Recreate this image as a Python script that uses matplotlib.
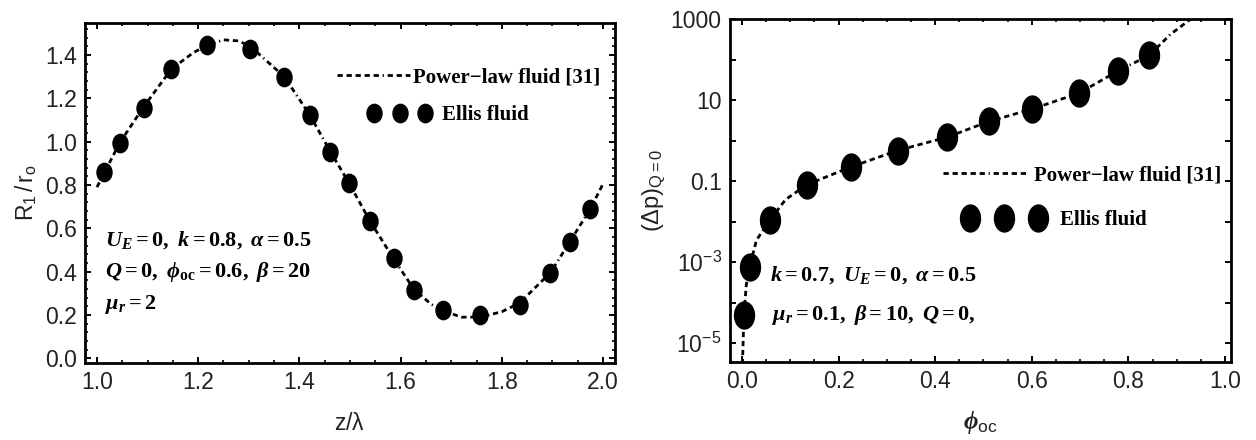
import numpy as np
import matplotlib
matplotlib.use("Agg")
import matplotlib.pyplot as plt
from matplotlib.path import Path
from matplotlib.transforms import Affine2D
from matplotlib.lines import Line2D
from matplotlib.ticker import MultipleLocator, LogLocator, FuncFormatter, NullLocator

# ---------------- data ----------------
# left panel: R1/r0 vs z/lambda
z_powerlaw = [1.000, 1.013, 1.045, 1.092, 1.147, 1.190, 1.217, 1.250, 1.280, 1.303,
              1.370, 1.420, 1.461, 1.499, 1.539, 1.586, 1.626, 1.660, 1.684, 1.720,
              1.757, 1.800, 1.835, 1.896, 1.935, 1.975, 2.000]
R_powerlaw = [0.790, 0.850, 0.995, 1.160, 1.335, 1.410, 1.445, 1.470, 1.465, 1.440,
              1.300, 1.125, 0.955, 0.805, 0.635, 0.460, 0.320, 0.250, 0.220, 0.190,
              0.190, 0.215, 0.255, 0.395, 0.540, 0.690, 0.805]
z_ellis = [1.013, 1.045, 1.092, 1.147, 1.217, 1.303, 1.370, 1.420, 1.461, 1.499,
           1.539, 1.586, 1.626, 1.684, 1.757, 1.835, 1.896, 1.935, 1.975]
R_ellis = [0.861, 0.995, 1.157, 1.334, 1.446, 1.427, 1.297, 1.123, 0.951, 0.808,
           0.635, 0.462, 0.315, 0.223, 0.200, 0.246, 0.395, 0.538, 0.688]

# right panel: (Delta p)_{Q=0} vs phi_oc
phi_powerlaw = [0.001, 0.004, 0.009, 0.016, 0.030, 0.058, 0.090, 0.134, 0.225, 0.322,
                0.424, 0.511, 0.601, 0.698, 0.779, 0.843, 0.887, 0.928, 0.945]
dp_powerlaw = [3.0e-6, 5.0e-5, 2.8e-4, 7.8e-4, 3.5e-3, 1.1e-2, 3.5e-2, 8.2e-2, 0.224, 0.575,
               1.22, 3.0, 6.1, 15.1, 53.7, 129.0, 427.0, 1000.0, 1500.0]
phi_ellis = [0.004, 0.016, 0.058, 0.134, 0.225, 0.322, 0.424, 0.511, 0.601, 0.698,
             0.779, 0.843]
dp_ellis = [5.0e-5, 7.8e-4, 1.1e-2, 8.2e-2, 0.224, 0.575, 1.22, 3.0, 6.1, 15.1,
            53.7, 129.0]

left_xticks = [1.0, 1.2, 1.4, 1.6, 1.8, 2.0]
left_yticks = [0.0, 0.2, 0.4, 0.6, 0.8, 1.0, 1.2, 1.4]
right_xticks = [0.0, 0.2, 0.4, 0.6, 0.8, 1.0]

legend_labels = ["Power\u2212law fluid [31]", "Ellis fluid"]

# ---------------- style ----------------
plt.rcParams['mathtext.fontset'] = 'custom'
plt.rcParams['mathtext.rm'] = 'Liberation Serif:bold'
plt.rcParams['mathtext.it'] = 'Liberation Serif:bold:italic'
plt.rcParams['mathtext.bf'] = 'Liberation Serif:bold'
plt.rcParams['mathtext.sf'] = 'Liberation Sans'
plt.rcParams['font.family'] = ['Liberation Sans', 'DejaVu Sans']
plt.rcParams['lines.scale_dashes'] = False

TICKCOL = '#222222'
DASH = (0, (3.8, 2.7, 3.8, 2.7, 3.8, 2.7, 3.8, 2.7, 3.8, 2.7, 0.9, 2.7))


def ellipse_marker(ratio):
    return Path.unit_circle().transformed(Affine2D().scale(1.0, ratio))


fig = plt.figure(figsize=(12.56, 4.40), dpi=100)
W, H = 1256.0, 440.0


def px_axes(l, t, r, b):
    return fig.add_axes([l / W, 1 - b / H, (r - l) / W, (b - t) / H])


def style_axes(ax):
    for s in ax.spines.values():
        s.set_linewidth(2.0)
        s.set_color('black')
    ax.tick_params(which='both', direction='in', top=True, right=True,
                   colors='black', labelcolor=TICKCOL, labelsize=16.5)
    ax.tick_params(which='major', length=4.5, width=1.4, pad=6)
    ax.tick_params(which='minor', length=2.3, width=1.2)


# ---------------- left panel ----------------
axL = px_axes(85, 23, 615, 363)
style_axes(axL)
mkL = ellipse_marker(1.22)
axL.plot(z_powerlaw, R_powerlaw, color='black', lw=2.0, linestyle=DASH,
         dash_capstyle='butt', zorder=2)
axL.plot(z_ellis, R_ellis, linestyle='none', marker=mkL, markersize=13.2,
         color='black', zorder=3)
axL.set_xlim(0.9763, 2.0237)
axL.set_ylim(-0.0217, 1.5477)
axL.set_xticks(left_xticks)
axL.set_yticks(left_yticks)
axL.set_xticklabels([f"{v:.1f}" for v in left_xticks])
axL.set_yticklabels([f"{v:.1f}" for v in left_yticks])
axL.xaxis.set_minor_locator(MultipleLocator(0.05))
axL.yaxis.set_minor_locator(MultipleLocator(0.04))
axL.set_xlabel(r"$\mathsf{z/\lambda}$", fontsize=16.5, color=TICKCOL, labelpad=13)
axL.set_ylabel(r"$\mathsf{R_1\,/\,r_o}$", fontsize=16.5, color=TICKCOL, labelpad=4)

txtkw = dict(transform=axL.transAxes, ha='left', va='center', fontsize=16)
axL.text(0.038, 0.362, r"$U_E = 0,\ k = 0.8,\ \alpha = 0.5$", **txtkw)
axL.text(0.038, 0.268, r"$Q = 0,\ \phi_{\rm oc} = 0.6,\ \beta = 20$", **txtkw)
axL.text(0.038, 0.171, r"$\mu_r = 2$", **txtkw)

FS_LEG = 15
legfont = dict(family='Liberation Serif', weight='bold', size=FS_LEG)
hL1 = Line2D([], [], color='black', lw=2.0, linestyle=DASH, dash_capstyle='butt')
hL2 = Line2D([], [], color='black', linestyle='none', marker=mkL, markersize=13.2)
lg1 = axL.legend([hL1], [legend_labels[0]], loc='center left',
                 bbox_to_anchor=(0.4755, 0.841), frameon=False, prop=legfont,
                 handlelength=3.5, handletextpad=0.14, borderpad=0, borderaxespad=0)
axL.add_artist(lg1)
axL.legend([hL2], [legend_labels[1]], loc='center left', numpoints=3,
           bbox_to_anchor=(0.5335, 0.729), frameon=False, prop=legfont,
           handlelength=3.05, handletextpad=0.52, borderpad=0, borderaxespad=0)

# ---------------- right panel ----------------
axR = px_axes(730, 19, 1231, 362)
style_axes(axR)
mkR = ellipse_marker(1.35)
axR.plot(phi_powerlaw, dp_powerlaw, color='black', lw=2.0, linestyle=DASH,
         dash_capstyle='butt', zorder=2)
axR.plot(phi_ellis, dp_ellis, linestyle='none', marker=mkR, markersize=19.4,
         color='black', zorder=3)
axR.set_yscale('log')
axR.set_xlim(-0.0248, 1.0124)
axR.set_ylim(10 ** -5.468, 10 ** 3.01)
axR.set_xticks(right_xticks)
axR.set_xticklabels([f"{v:.1f}" for v in right_xticks])
axR.xaxis.set_minor_locator(MultipleLocator(0.05))
axR.yaxis.set_major_locator(LogLocator(base=10, subs=(1.0,), numticks=20))
axR.yaxis.set_minor_locator(NullLocator())


def logfmt(v, pos):
    e = int(round(np.log10(v)))
    if e % 2 == 0:
        return ""
    if e == 3:
        return "1000"
    if e == 1:
        return "10"
    if e == -1:
        return "0.1"
    return r"$\mathsf{10^{%d}}$" % e


axR.yaxis.set_major_formatter(FuncFormatter(logfmt))
axR.set_xlabel(r"$\phi_{\mathsf{oc}}$", fontsize=18, color=TICKCOL, labelpad=11)
axR.set_ylabel(r"$\mathsf{(\Delta p)_{Q=0}}$", fontsize=17, color=TICKCOL, labelpad=2)

txtkwR = dict(transform=axR.transAxes, ha='left', va='center', fontsize=16)
axR.text(0.080, 0.254, r"$k = \mathit{0.7},\ U_E = \mathit{0},\ \alpha = \mathit{0.5}$", **txtkwR)
axR.text(0.084, 0.137, r"$\mu_r = \mathit{0.1},\ \beta = 10,\ Q = \mathit{0},$", **txtkwR)

hR2 = Line2D([], [], color='black', linestyle='none', marker=mkR, markersize=19.4)
lg3 = axR.legend([hL1], [legend_labels[0]], loc='center left',
                 bbox_to_anchor=(0.425, 0.545), frameon=False, prop=legfont,
                 handlelength=4.03, handletextpad=0.34, borderpad=0, borderaxespad=0)
axR.add_artist(lg3)
axR.legend([hR2], [legend_labels[1]], loc='center left', numpoints=3,
           bbox_to_anchor=(0.4656, 0.414), frameon=False, prop=legfont,
           handlelength=3.89, handletextpad=0.76, borderpad=0, borderaxespad=0)

fig.savefig("out.png", dpi=100, facecolor='white')
